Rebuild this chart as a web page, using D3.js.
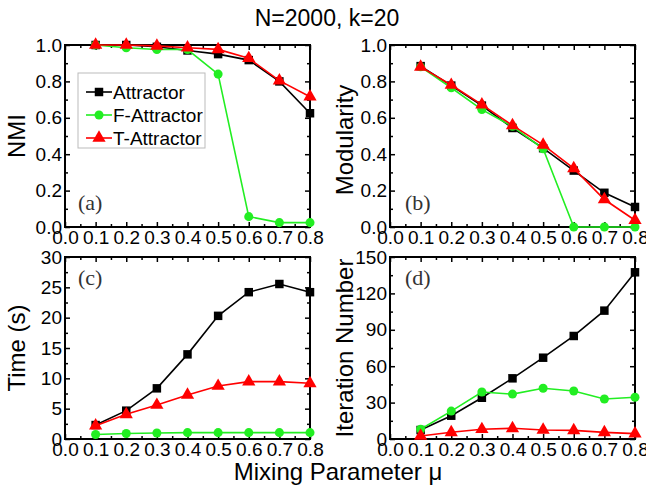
<!DOCTYPE html>
<html>
<head>
<meta charset="utf-8">
<script src="https://cdn.jsdelivr.net/npm/d3@7"></script>
<style>
  html, body { margin: 0; padding: 0; background: #fff; }
  svg { display: block; font-family: "Liberation Sans", Arial, Helvetica, sans-serif; }
</style>
</head>
<body>
<svg id="chart" width="646" height="490"></svg>
<script>
// Mixing parameter values shared by every panel
const mu = [0.1, 0.2, 0.3, 0.4, 0.5, 0.6, 0.7, 0.8];

// (a) NMI
const nmiAttractor  = [1.0, 1.0, 0.99, 0.97, 0.95, 0.917, 0.80, 0.625];
const nmiFAttractor = [1.0, 0.985, 0.975, 0.975, 0.84, 0.057, 0.024, 0.024];
const nmiTAttractor = [1.0, 1.0, 0.995, 0.985, 0.976, 0.927, 0.804, 0.716];

// (b) Modularity
const modAttractor  = [0.884, 0.777, 0.667, 0.544, 0.433, 0.31, 0.188, 0.11];
const modFAttractor = [0.88, 0.765, 0.645, 0.553, 0.43, 0.0, 0.0, 0.0];
const modTAttractor = [0.88, 0.78, 0.672, 0.558, 0.451, 0.322, 0.151, 0.037];

// (c) Time (s)
const timeAttractor  = [2.3, 4.67, 8.35, 13.95, 20.3, 24.2, 25.55, 24.2];
const timeFAttractor = [0.75, 0.9, 1.0, 1.05, 1.05, 1.05, 1.05, 1.05];
const timeTAttractor = [2.2, 4.07, 5.6, 7.25, 8.73, 9.45, 9.45, 9.18];

// (d) Iteration number
const iterAttractor  = [7.4, 19.2, 34, 50, 67, 84.9, 105.8, 137.4];
const iterFAttractor = [8, 23, 38.7, 37, 41.8, 39.6, 33, 34.4];
const iterTAttractor = [2.5, 5.5, 8, 8.8, 7.4, 7.1, 5.5, 4.4];

// Tick values
const xTicks = [0, 0.1, 0.2, 0.3, 0.4, 0.5, 0.6, 0.7, 0.8];
const nmiTicks = [0, 0.2, 0.4, 0.6, 0.8, 1.0];
const modTicks = [0, 0.2, 0.4, 0.6, 0.8, 1.0];
const timeTicks = [0, 5, 10, 15, 20, 25, 30];
const iterTicks = [0, 30, 60, 90, 120, 150];

const seriesNames = ["Attractor", "F-Attractor", "T-Attractor"];
const seriesColors = ["#000000", "#22ee22", "#ff0000"];
const seriesShapes = [d3.symbolSquare, d3.symbolCircle, d3.symbolTriangle];
const shapeSizes = [72, 64, 76];

const panels = [
  { tag: "(a)", ylabel: "NMI", data: [nmiAttractor, nmiFAttractor, nmiTAttractor],
    yDomain: [0, 1.0], yTicks: nmiTicks, fmt: d3.format(".1f"),
    x0: 65, y0: 45, labelCenter: 136, legend: true, tagPos: [78, 210] },
  { tag: "(b)", ylabel: "Modularity", data: [modAttractor, modFAttractor, modTAttractor],
    yDomain: [0, 1.0], yTicks: modTicks, fmt: d3.format(".1f"),
    x0: 390, y0: 45, labelCenter: 140, tagPos: [405, 210] },
  { tag: "(c)", ylabel: "Time (s)", data: [timeAttractor, timeFAttractor, timeTAttractor],
    yDomain: [0, 30], yTicks: timeTicks, fmt: d3.format("d"),
    x0: 65, y0: 257, labelCenter: 348, tagPos: [78, 285] },
  { tag: "(d)", ylabel: "Iteration Number", data: [iterAttractor, iterFAttractor, iterTAttractor],
    yDomain: [0, 150], yTicks: iterTicks, fmt: d3.format("d"),
    x0: 390, y0: 257, labelCenter: 348, tagPos: [405, 285] }
];

const W = 245, H = 182;
const svg = d3.select("#chart");

svg.append("text")
  .attr("x", 327).attr("y", 26)
  .attr("text-anchor", "middle")
  .attr("font-size", 23)
  .text("N=2000, k=20");

svg.append("text")
  .attr("x", 338).attr("y", 480)
  .attr("text-anchor", "middle")
  .attr("font-size", 24)
  .text("Mixing Parameter \u03bc");

panels.forEach(p => {
  const g = svg.append("g").attr("transform", `translate(${p.x0},${p.y0})`);
  const x = d3.scaleLinear().domain([0, 0.8]).range([0, W]);
  const y = d3.scaleLinear().domain(p.yDomain).range([H, 0]);
  const yStep = p.yTicks[1] - p.yTicks[0];
  const yMinor = d3.range(p.yDomain[0] + yStep / 2, p.yDomain[1], yStep);
  const xMinor = d3.range(0.05, 0.8, 0.1);

  const styleAxis = sel => {
    sel.select(".domain").remove();
    sel.selectAll(".tick line").attr("stroke", "#000").attr("stroke-width", 1.5);
    sel.selectAll("text").attr("font-size", 19).attr("fill", "#000")
      .attr("font-family", "Liberation Sans, Arial, sans-serif");
  };

  // bottom axis with labels, ticks pointing inward
  g.append("g").attr("transform", `translate(0,${H})`)
    .call(d3.axisBottom(x).tickValues(xTicks).tickFormat(d3.format(".1f")).tickSize(-5).tickPadding(4))
    .call(styleAxis);
  g.append("g").attr("transform", `translate(0,${H})`)
    .call(d3.axisBottom(x).tickValues(xMinor).tickFormat("").tickSize(-3))
    .call(styleAxis);
  // top mirror ticks
  g.append("g")
    .call(d3.axisTop(x).tickValues(xTicks).tickFormat("").tickSize(-5))
    .call(styleAxis);
  g.append("g")
    .call(d3.axisTop(x).tickValues(xMinor).tickFormat("").tickSize(-3))
    .call(styleAxis);
  // left axis with labels
  g.append("g")
    .call(d3.axisLeft(y).tickValues(p.yTicks).tickFormat(p.fmt).tickSize(-5).tickPadding(3))
    .call(styleAxis);
  g.append("g")
    .call(d3.axisLeft(y).tickValues(yMinor).tickFormat("").tickSize(-3))
    .call(styleAxis);
  // right mirror ticks
  g.append("g").attr("transform", `translate(${W},0)`)
    .call(d3.axisRight(y).tickValues(p.yTicks).tickFormat("").tickSize(-5))
    .call(styleAxis);
  g.append("g").attr("transform", `translate(${W},0)`)
    .call(d3.axisRight(y).tickValues(yMinor).tickFormat("").tickSize(-3))
    .call(styleAxis);

  // frame
  g.append("rect").attr("width", W).attr("height", H)
    .attr("fill", "none").attr("stroke", "#000").attr("stroke-width", 2);

  // panel tag
  svg.append("text")
    .attr("x", p.tagPos[0]).attr("y", p.tagPos[1])
    .attr("font-family", "Liberation Serif, 'DejaVu Serif', serif")
    .attr("font-size", 22).attr("fill", "#333")
    .text(p.tag);

  // y-axis title
  const lx = p.x0 < 200 ? 25 : 353;
  svg.append("text")
    .attr("transform", `translate(${lx},${p.labelCenter}) rotate(-90)`)
    .attr("text-anchor", "middle")
    .attr("font-size", 24)
    .text(p.ylabel);

  // series
  const line = d3.line().x((d, i) => x(mu[i])).y(d => y(d));
  p.data.forEach((vals, si) => {
    g.append("path").datum(vals)
      .attr("d", line)
      .attr("fill", "none")
      .attr("stroke", seriesColors[si])
      .attr("stroke-width", 1.6);
    g.selectAll(null).data(vals).enter().append("path")
      .attr("transform", (d, i) => `translate(${x(mu[i])},${y(d)})`)
      .attr("d", d3.symbol().type(seriesShapes[si]).size(shapeSizes[si]))
      .attr("fill", seriesColors[si]);
  });

  // legend
  if (p.legend) {
    const lg = svg.append("g").attr("transform", "translate(78,73)");
    lg.append("rect").attr("width", 127).attr("height", 75)
      .attr("fill", "#fff").attr("stroke", "#bbb").attr("stroke-width", 1);
    seriesNames.forEach((name, si) => {
      const yy = 19 + si * 23;
      lg.append("line").attr("x1", 8).attr("x2", 34).attr("y1", yy).attr("y2", yy)
        .attr("stroke", seriesColors[si]).attr("stroke-width", 1.6);
      lg.append("path").attr("transform", `translate(21,${yy})`)
        .attr("d", d3.symbol().type(seriesShapes[si]).size(shapeSizes[si]))
        .attr("fill", seriesColors[si]);
      lg.append("text").attr("x", 35).attr("y", yy).attr("dy", "0.35em")
        .attr("font-size", 19).text(name);
    });
  }
});
</script>
</body>
</html>
